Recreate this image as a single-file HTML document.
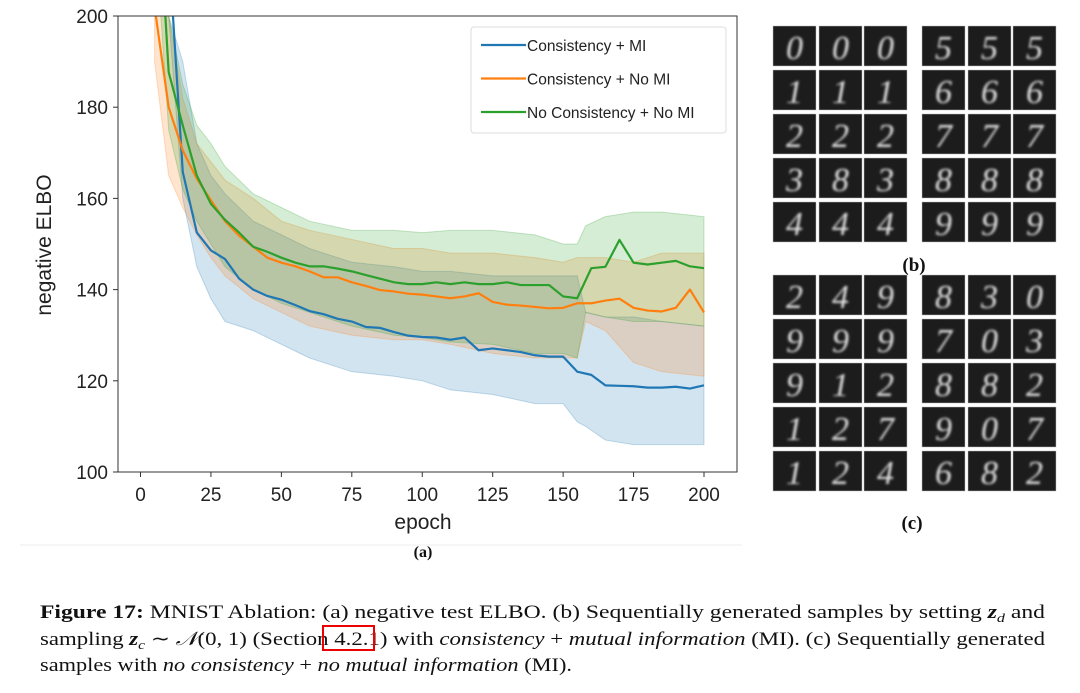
<!DOCTYPE html>
<html><head><meta charset="utf-8"><style>
html,body{margin:0;padding:0;background:#fff;}
svg{display:block;}
</style></head><body>
<svg id="fig" width="1080" height="693" viewBox="0 0 1080 693" xmlns="http://www.w3.org/2000/svg">
<defs>
<clipPath id="plotclip"><rect x="118" y="16" width="619" height="456"/></clipPath>
<filter id="blur" x="-20%" y="-20%" width="140%" height="140%"><feGaussianBlur stdDeviation="1.3"/></filter>
</defs>
<line x1="20" y1="545" x2="742" y2="545" stroke="#eee" stroke-width="1"/>
<g id="chart"></g>
<g id="grids"></g>
<g font-family="'Liberation Serif', serif" font-size="19" fill="#111">
<text x="40" y="618" textLength="1005" lengthAdjust="spacingAndGlyphs"><tspan font-weight="bold">Figure 17:</tspan> MNIST Ablation: (a) negative test ELBO. (b) Sequentially generated samples by setting <tspan font-style="italic" font-weight="bold">z</tspan><tspan font-style="italic" font-size="13" dy="4">d</tspan><tspan dy="-4"> and</tspan></text>
<text x="40" y="645" textLength="1005" lengthAdjust="spacingAndGlyphs">sampling <tspan font-style="italic" font-weight="bold">z</tspan><tspan font-style="italic" font-size="13" dy="4">c</tspan><tspan dy="-4"> ∼ </tspan><tspan font-style="italic">𝒩</tspan>(0, 1) (Section 4.2.1) with <tspan font-style="italic">consistency</tspan> + <tspan font-style="italic">mutual information</tspan> (MI). (c) Sequentially generated</text>
<text x="40" y="671" textLength="532" lengthAdjust="spacingAndGlyphs">samples with <tspan font-style="italic">no consistency</tspan> + <tspan font-style="italic">no mutual information</tspan> (MI).</text>
</g>
<rect x="323" y="626" width="51" height="24" fill="none" stroke="#e00" stroke-width="2"/>
</svg>
<script>
const epochs=[5,10,15,20,25,30,35,40,45,50,55,60,65,70,75,80,85,90,95,100,105,110,115,120,125,130,135,140,145,150,155,160,165,170,175,180,185,190,195,200];
const blueMean=[300,215,165.8,152.5,148.6,146.7,142.4,140,138.6,137.8,136.6,135.3,134.6,133.6,133,131.8,131.6,130.7,129.9,129.6,129.5,129,129.5,126.7,127.1,126.7,126.3,125.6,125.3,125.3,122,121.3,119,118.9,118.8,118.5,118.5,118.7,118.3,119];
const orangeMean=[202,180,170.5,164.3,159.6,155,151.8,149.4,147,145.9,145.1,144,142.7,142.7,141.6,140.8,139.9,139.6,139.1,138.9,138.5,138.1,138.5,139.2,137.3,136.7,136.5,136.2,135.9,136,137,137,137.6,138,136,135.4,135.2,136,140,135];
const greenMean=[240,187.7,176,165,158.8,155.3,152.5,149.4,148.3,147,145.9,145.1,145.1,144.6,144,143.2,142.4,141.6,141.2,141.2,141.6,141.2,141.6,141.2,141.2,141.6,141,141,141,138.5,138.1,144.7,145,150.9,145.9,145.5,145.9,146.3,145.1,144.7];
const bandEpochs=[5,10,15,20,25,30,40,50,60,75,90,100,110,125,140,150,155,158,165,175,185,200];
const blueHi=[260,200,190,172,165,161,155,152,149,146,145,144,144,143,143,143,143,135,134,134,133,132];
const blueLo=[240,200,160,145,138,133,131,128,125,122,121,120,118,117,115,115,111,110,107,106,106,106];
const orangeHi=[215,200,182,172,168,164,160,155,153,151,149,149,148,148,147,146,147,147,147,146,148,148];
const orangeLo=[190,165,158,152,147,143,138,135,132,130,129,129,128,126,125,125,125,133,131,124,122,121];
const greenHi=[250,200,185,176,172,167,161,158,155,153,153,152.5,153,153,152,150,150,154,156,157,157,156];
const greenLo=[220,175,162,155,150,145,140,137,135,132,130,129.5,128.5,128,126,126,125,135,134,133,133,132];
const xTicks=[0,25,50,75,100,125,150,175,200];
const yTicks=[100,120,140,160,180,200];
const legendLabels=["Consistency + MI","Consistency + No MI","No Consistency + No MI"];

const NS="http://www.w3.org/2000/svg";
const X=e=>140.5+(e/200)*563.5;
const Y=v=>472-(v-100)/100*456;
function mk(tag,attrs,parent){const el=document.createElementNS(NS,tag);for(const k in attrs)el.setAttribute(k,attrs[k]);parent.appendChild(el);return el;}
const chart=document.getElementById('chart');
const plot=mk('g',{'clip-path':'url(#plotclip)'},chart);
const colors=['#1f77b4','#ff7f0e','#2ca02c'];
const bands=[[blueHi,blueLo],[orangeHi,orangeLo],[greenHi,greenLo]];
const means=[blueMean,orangeMean,greenMean];
const names=['blue','orange','green'];
bands.forEach((b,i)=>{
  let d='M'+bandEpochs.map((e,j)=>X(e)+','+Y(b[0][j])).join('L');
  d+='L'+bandEpochs.slice().reverse().map((e,j)=>X(e)+','+Y(b[1][bandEpochs.length-1-j])).join('L')+'Z';
  const p=mk('path',{d:d,fill:colors[i],'fill-opacity':0.2,stroke:colors[i],'stroke-opacity':0.25},plot);
  
  
});
means.forEach((m,i)=>{
  const d='M'+epochs.map((e,j)=>X(e)+','+Y(m[j])).join('L');
  const p=mk('path',{d:d,fill:'none',stroke:colors[i],'stroke-width':2.2,'stroke-linejoin':'round'},plot);
  
  
});
const frame=mk('rect',{x:118,y:16,width:619,height:456,fill:'none',stroke:'#333','stroke-width':1},chart);


xTicks.forEach(t=>{
  mk('line',{x1:X(t),x2:X(t),y1:472,y2:477,stroke:'#333'},chart);
  const tx=mk('text',{x:X(t),y:501,'text-anchor':'middle','font-family':'Liberation Sans, sans-serif','font-size':19,fill:'#222'},chart);
  tx.textContent=t;
  
  
});
yTicks.forEach(t=>{
  mk('line',{x1:113,x2:118,y1:Y(t),y2:Y(t),stroke:'#333'},chart);
  const tx=mk('text',{x:108,y:Y(t)+7,'text-anchor':'end','font-family':'Liberation Sans, sans-serif','font-size':19,fill:'#222'},chart);
  tx.textContent=t;
  
  
});
const xt=mk('text',{x:423,y:529,'text-anchor':'middle','font-family':'Liberation Sans, sans-serif','font-size':21,fill:'#222'},chart);
xt.textContent='epoch';


const yt=mk('text',{x:0,y:0,transform:'translate(51,245) rotate(-90)','text-anchor':'middle','font-family':'Liberation Sans, sans-serif','font-size':21,fill:'#222'},chart);
yt.textContent='negative ELBO';


const pa=mk('text',{x:423,y:557,'text-anchor':'middle','font-family':'Liberation Serif, serif','font-size':16,'font-weight':'bold',fill:'#111'},chart);
pa.textContent='(a)';


const lg=mk('g',{},chart);


mk('rect',{x:471,y:27,width:255,height:106,rx:3,fill:'#fff','fill-opacity':0.85,stroke:'#ddd'},lg);
legendLabels.forEach((l,i)=>{
  const yy=45+i*33.5;
  mk('line',{x1:481,x2:526,y1:yy,y2:yy,stroke:colors[i],'stroke-width':2.2},lg);
  const tx=mk('text',{x:527,y:yy+6,'font-family':'Liberation Sans, sans-serif','font-size':15.5,fill:'#222'},lg);
  tx.textContent=l;
  
  
});

// digit grids
const gridB=[["0","0","0","5","5","5"],["1","1","1","6","6","6"],["2","2","2","7","7","7"],["3","8","3","8","8","8"],["4","4","4","9","9","9"]];
const gridC=[["2","4","9","8","3","0"],["9","9","9","7","0","3"],["9","1","2","8","8","2"],["1","2","7","9","0","7"],["1","2","4","6","8","2"]];
const grids=document.getElementById('grids');
function drawGrid(g,y0,name){
  const gg=mk('g',{},grids);
  
  
  const colX=[773,819,864,922,968,1013];
  g.forEach((row,r)=>row.forEach((d,c)=>{
    const x=colX[c], y=y0+r*44;
    mk('rect',{x:x,y:y,width:43,height:40,fill:'#1c1c1c',stroke:'#bbb','stroke-width':0.5},gg);
    const t=mk('text',{x:x+21.5,y:y+33,'text-anchor':'middle','font-family':'Liberation Serif, serif','font-size':34,'font-style':'italic',fill:'#e0e0e0',filter:'url(#blur)'},gg);
    t.textContent=d;
  }));
}
drawGrid(gridB,26,'grid-b');
drawGrid(gridC,275,'grid-c');
[['(b)',914,271,'panel-b-label'],['(c)',912,529,'panel-c-label']].forEach(a=>{
  const t=mk('text',{x:a[1],y:a[2],'text-anchor':'middle','font-family':'Liberation Serif, serif','font-size':19,'font-weight':'bold',fill:'#111'},grids);
  t.textContent=a[0];
  
  
});
</script>
</body></html>
